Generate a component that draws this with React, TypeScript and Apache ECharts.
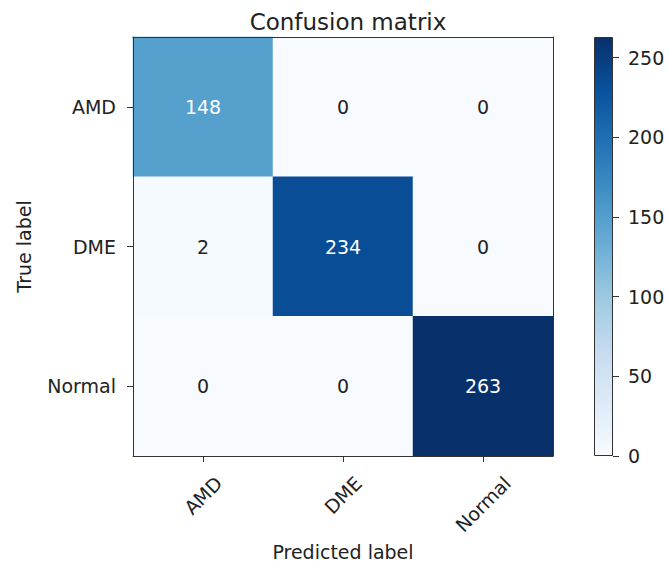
import React, { useEffect, useRef } from "react";
import * as echarts from "echarts";

const predictedLabels = ["AMD", "DME", "Normal"];
const trueLabels = ["AMD", "DME", "Normal"];
const matrix = [
  [148, 0, 0],
  [2, 234, 0],
  [0, 0, 263],
];
const colorbarTicks = [0, 50, 100, 150, 200, 250];
const blues = ["#f7fbff", "#deebf7", "#c6dbef", "#9ecae1", "#6baed6", "#4292c6", "#2171b5", "#08519c", "#08306b"];

const FONT = "DejaVu Sans";
const TXT = "#222";
const FS = 19;

function measure(text: string): number {
  const c = document.createElement("canvas").getContext("2d");
  if (!c) return text.length * FS * 0.65;
  c.font = `${FS}px "${FONT}"`;
  return c.measureText(text).width;
}

export default function App() {
  const ref = useRef<HTMLDivElement>(null);
  useEffect(() => {
    if (!ref.current) return;
    const chart = echarts.init(ref.current, undefined, { renderer: "svg" });
    const vmax = Math.max(...matrix.flat());
    const data: any[] = [];
    matrix.forEach((row, yi) =>
      row.forEach((v, xi) => {
        data.push({
          value: [xi, yi, v],
          label: { color: v > vmax / 2 ? "#ffffff" : "#222" },
        });
      })
    );
    const stops = blues
      .slice()
      .reverse()
      .map((c, i, arr) => ({ offset: i / (arr.length - 1), color: c }));

    // rotated x labels: emulate centered bbox under tick
    const widths = predictedLabels.map(measure);
    const minW = Math.min(...widths);
    const rich: any = {};
    predictedLabels.forEach((l, i) => {
      const p = (widths[i] - minW) / 2;
      rich["r" + i] = { fontFamily: FONT, fontSize: FS, color: TXT, padding: [p, p, 0, 0] };
    });

    const frameAxisX = {
      gridIndex: 0,
      type: "category",
      data: predictedLabels,
      z: 10,
      axisLine: { show: true, lineStyle: { color: "#333", width: 1 } },
      axisTick: { show: false },
      axisLabel: { show: false },
      splitLine: { show: false },
    };

    chart.setOption({
      animation: false,
      textStyle: { fontFamily: FONT },
      title: {
        text: "Confusion matrix",
        left: 343,
        textAlign: "center",
        top: 5,
        textStyle: { fontFamily: FONT, fontSize: 23, fontWeight: "normal", color: TXT },
      },
      grid: [
        { left: 133, top: 37, width: 420, height: 419 },
        { left: 594, top: 37, width: 19, height: 419 },
      ],
      visualMap: {
        show: false,
        seriesIndex: 0,
        dimension: 2,
        min: 0,
        max: vmax,
        inRange: { color: blues },
      },
      xAxis: [
        {
          gridIndex: 0,
          type: "category",
          data: predictedLabels,
          position: "bottom",
          z: 10,
          name: "Predicted label",
          nameLocation: "middle",
          nameGap: 84,
          nameTextStyle: { fontFamily: FONT, fontSize: FS, color: TXT },
          axisLine: { show: true, lineStyle: { color: "#333", width: 1 } },
          axisTick: { show: true, alignWithLabel: true, length: 6, lineStyle: { color: "#333" } },
          axisLabel: {
            rotate: 45,
            margin: 39,
            align: "center",
            verticalAlign: "middle",
            fontFamily: FONT,
            fontSize: FS,
            color: TXT,
            formatter: (v: string) => `{r${predictedLabels.indexOf(v)}|${v}}`,
            rich,
          },
          splitLine: { show: false },
        },
        {
          gridIndex: 1,
          type: "category",
          data: ["cb"],
          show: false,
        },
        { ...frameAxisX, position: "top" },
      ],
      yAxis: [
        {
          gridIndex: 0,
          type: "category",
          data: trueLabels,
          inverse: true,
          z: 10,
          name: "True label",
          nameLocation: "middle",
          nameGap: 100,
          nameRotate: 90,
          nameTextStyle: { fontFamily: FONT, fontSize: FS, color: TXT },
          axisLine: { show: true, lineStyle: { color: "#333", width: 1 } },
          axisTick: { show: true, alignWithLabel: true, length: 6, lineStyle: { color: "#333" } },
          axisLabel: { margin: 17, fontFamily: FONT, fontSize: FS, color: TXT },
          splitLine: { show: false },
        },
        {
          gridIndex: 1,
          type: "value",
          min: 0,
          max: vmax,
          position: "right",
          axisLine: { show: false },
          splitLine: { show: false },
          axisTick: { show: true, length: 6, customValues: colorbarTicks, lineStyle: { color: "#333" } },
          axisLabel: { customValues: colorbarTicks, margin: 15, fontFamily: FONT, fontSize: FS, color: TXT },
        },
        {
          gridIndex: 0,
          type: "category",
          data: trueLabels,
          inverse: true,
          position: "right",
          z: 10,
          axisLine: { show: true, lineStyle: { color: "#333", width: 1 } },
          axisTick: { show: false },
          axisLabel: { show: false },
          splitLine: { show: false },
        },
      ],
      series: [
        {
          type: "heatmap",
          xAxisIndex: 0,
          yAxisIndex: 0,
          data,
          label: { show: true, fontFamily: FONT, fontSize: FS, formatter: (p: any) => String(p.value[2]) },
          itemStyle: { borderWidth: 0 },
          emphasis: { disabled: true },
        },
        {
          type: "bar",
          xAxisIndex: 1,
          yAxisIndex: 1,
          data: [vmax],
          barWidth: "100%",
          itemStyle: {
            color: new echarts.graphic.LinearGradient(0, 0, 0, 1, stops),
            borderColor: "#333",
            borderWidth: 1,
          },
          silent: true,
        },
      ],
    });
    return () => chart.dispose();
  }, []);
  return <div ref={ref} style={{ position: "fixed", left: 0, top: 0, width: 668, height: 567, background: "#fff" }} />;
}
